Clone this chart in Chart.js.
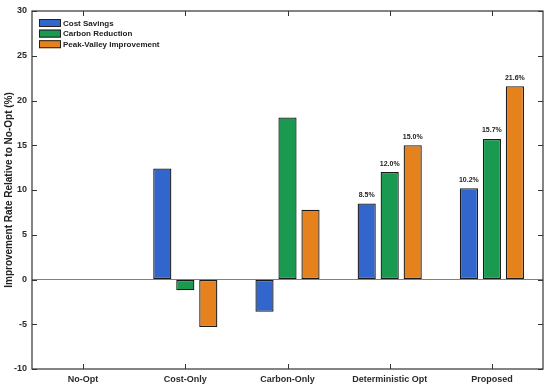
<!DOCTYPE html>
<html>
<head>
<meta charset="utf-8">
<script src="https://cdn.jsdelivr.net/npm/chart.js@4/dist/chart.umd.min.js"></script>
<style>
  html, body { margin: 0; padding: 0; background: #fff; }
  #wrap { width: 550px; height: 390px; }
</style>
</head>
<body>
<div id="wrap"><canvas id="c" width="550" height="390"></canvas></div>
<script>
const categories = ["No-Opt", "Cost-Only", "Carbon-Only", "Deterministic Opt", "Proposed"];
const costSavings = [0, 12.4, -3.6, 8.5, 10.2];
const carbonReduction = [0, -1.2, 18.1, 12.0, 15.7];
const peakValley = [0, -5.3, 7.8, 15.0, 21.6];
const seriesNames = ["Cost Savings", "Carbon Reduction", "Peak-Valley Improvement"];
const labeledCategories = ["Deterministic Opt", "Proposed"];
const yTickMin = -10, yTickMax = 30, yTickStep = 5;

const FONT = "'Liberation Sans', Arial, Helvetica, sans-serif";
const colors = ["#3366CC", "#1A9950", "#E6821E"];

const framePlugin = {
  id: 'frame',
  afterDraw(chart) {
    const ctx = chart.ctx, a = chart.chartArea;
    const xs = chart.scales.x, ys = chart.scales.y;
    ctx.save();
    ctx.strokeStyle = '#333';
    ctx.lineWidth = 1.2;
    ctx.strokeRect(a.left, a.top, a.right - a.left, a.bottom - a.top);
    ctx.lineWidth = 1;
    ctx.beginPath();
    const L = 5;
    ys.ticks.forEach(t => {
      const y = Math.round(ys.getPixelForValue(t.value)) + 0.5;
      ctx.moveTo(a.left, y); ctx.lineTo(a.left + L, y);
      ctx.moveTo(a.right, y); ctx.lineTo(a.right - L, y);
    });
    xs.ticks.forEach((t, i) => {
      const x = Math.round(xs.getPixelForTick(i)) + 0.5;
      ctx.moveTo(x, a.bottom); ctx.lineTo(x, a.bottom - L);
      ctx.moveTo(x, a.top); ctx.lineTo(x, a.top + L);
    });
    ctx.stroke();

    // value labels
    ctx.font = "bold 7px " + FONT;
    ctx.fillStyle = '#222';
    ctx.textAlign = 'center';
    ctx.textBaseline = 'middle';
    chart.data.datasets.forEach((ds, di) => {
      const meta = chart.getDatasetMeta(di);
      meta.data.forEach((bar, i) => {
        if (!labeledCategories.includes(chart.data.labels[i])) return;
        const v = ds.data[i];
        ctx.fillText(v.toFixed(1) + '%', bar.x, bar.y - 8.5);
      });
    });

    // legend
    ctx.font = "bold 8px " + FONT;
    ctx.textAlign = 'left';
    const lx = a.left + 7, ly0 = a.top + 12, step = 10.6;
    chart.data.datasets.forEach((ds, di) => {
      const cy = ly0 + di * step;
      ctx.fillStyle = ds.backgroundColor;
      ctx.fillRect(lx, cy - 4, 22, 8);
      ctx.strokeStyle = '#222';
      ctx.lineWidth = 1;
      ctx.strokeRect(lx + 0.5, cy - 3.5, 21, 7);
      ctx.fillStyle = '#222';
      ctx.fillText(ds.label, lx + 24, cy + 0.5);
    });
    ctx.restore();
  }
};

const mk = (name, data, col) => ({
  label: name, data, backgroundColor: col, borderColor: '#1a1a1a', borderWidth: 1.3, borderSkipped: false
});

new Chart(document.getElementById('c'), {
  type: 'bar',
  data: {
    labels: categories,
    datasets: [
      mk(seriesNames[0], costSavings, colors[0]),
      mk(seriesNames[1], carbonReduction, colors[1]),
      mk(seriesNames[2], peakValley, colors[2])
    ]
  },
  options: {
    responsive: false,
    animation: false,
    devicePixelRatio: 1,
    layout: { padding: { left: 0, right: 7, top: 11, bottom: 0 } },
    datasets: { bar: { categoryPercentage: 0.675, barPercentage: 0.79 } },
    plugins: { legend: { display: false }, tooltip: { enabled: false } },
    scales: {
      x: {
        grid: { display: false, drawTicks: false },
        border: { display: false },
        ticks: { color: '#2a2a2a', font: { family: FONT, size: 9, weight: 'bold' }, padding: 5, maxRotation: 0 },
        afterFit(s) { s.height = 21; }
      },
      y: {
        min: yTickMin, max: yTickMax,
        grid: {
          drawTicks: false,
          color: c => (c.tick && c.tick.value === 0) ? '#808080' : 'rgba(0,0,0,0)',
          lineWidth: 1
        },
        border: { display: false },
        ticks: { stepSize: yTickStep, color: '#2a2a2a', font: { family: FONT, size: 9, weight: 'bold' }, padding: 5 },
        title: {
          display: true, text: 'Improvement Rate Relative to No-Opt (%)',
          color: '#222', font: { family: FONT, size: 10, weight: 'bold' }, padding: { top: 3, bottom: 0 }
        },
        afterFit(s) { s.width = 32; }
      }
    }
  },
  plugins: [framePlugin]
});
</script>
</body>
</html>
